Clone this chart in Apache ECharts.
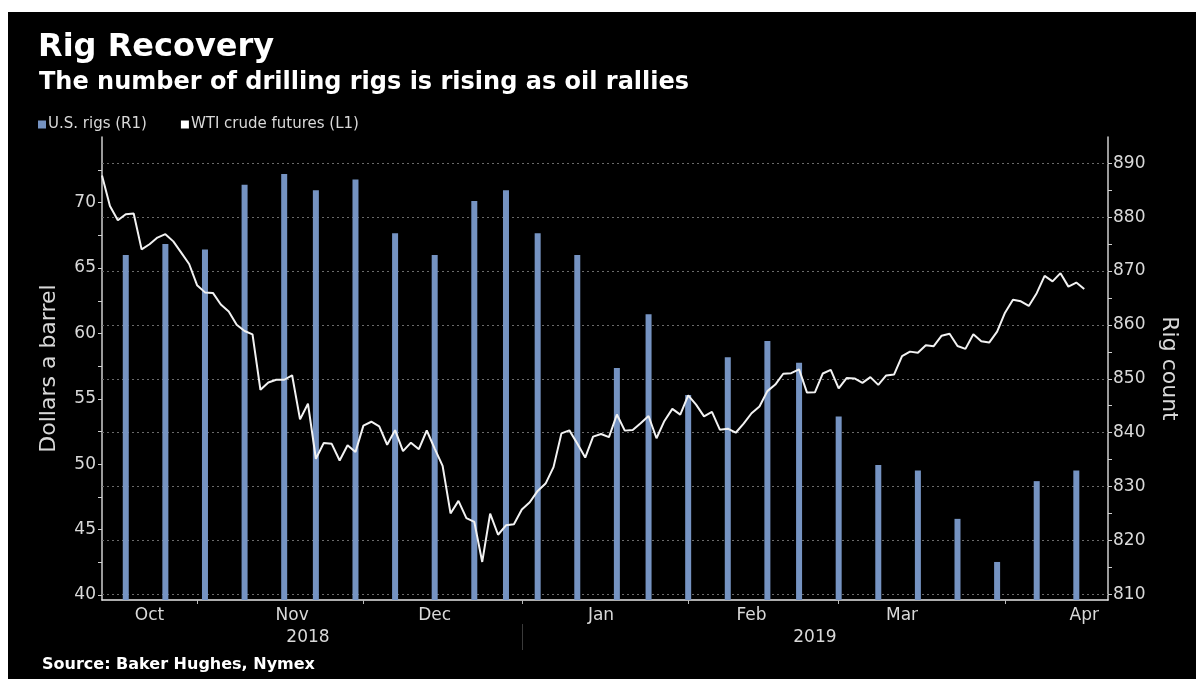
<!DOCTYPE html>
<html>
<head>
<meta charset="utf-8">
<script src="https://cdn.jsdelivr.net/npm/echarts@6/dist/echarts.min.js"></script>
<style>
  html, body { margin: 0; padding: 0; background: #ffffff; }
  #bg { position: absolute; left: 8px; top: 12px; right: 0; bottom: 0; background: #000; }
  #chart { position: absolute; left: 0; top: 0; width: 1196px; height: 679px; }
</style>
</head>
<body>
<div id="bg"></div>
<div id="chart"></div>
<script>
// ---- Data ----
const holidays = ['2018-11-22', '2018-12-25', '2019-01-01', '2019-01-21', '2019-02-18'];
const firstDay = '2018-10-16';
const lastDay = '2019-04-18';

// WTI crude futures, daily close ($/bbl), trading days from Oct 16 2018
const wti = [
  // Oct
  72.07, 69.75, 68.65, 69.12, 69.17, 66.43, 66.82, 67.33, 67.59, 67.04, 66.18, 65.31,
  // Nov
  63.69, 63.14, 63.10, 62.21, 61.67, 60.67, 60.19, 59.93, 55.69, 56.25, 56.46, 56.46, 56.80, 53.43, 54.63, 50.42, 51.63, 51.56, 50.29, 51.45, 50.93,
  // Dec
  52.95, 53.25, 52.89, 51.49, 52.61, 51.00, 51.65, 51.15, 52.58, 51.20, 49.88, 46.24, 47.20, 45.88, 45.59, 42.53, 46.22, 44.61, 45.33, 45.41,
  // Jan
  46.54, 47.09, 47.96, 48.52, 49.78, 52.36, 52.59, 51.59, 50.51, 52.11, 52.31, 52.07, 53.80, 52.57, 52.62, 53.13, 53.69, 51.99, 53.31, 54.23, 53.79,
  // Feb
  55.26, 54.56, 53.66, 54.01, 52.64, 52.72, 52.41, 53.10, 53.90, 54.41, 55.59, 56.09, 56.92, 56.96, 57.26, 55.48, 55.50, 56.94, 57.22,
  // Mar
  55.80, 56.59, 56.56, 56.22, 56.66, 56.07, 56.79, 56.87, 58.26, 58.61, 58.52, 59.09, 59.03, 59.83, 59.98, 59.04, 58.82, 59.94, 59.41, 59.30, 60.14,
  // Apr
  61.59, 62.58, 62.46, 62.10, 63.08, 64.40, 63.98, 64.61, 63.58, 63.89, 63.40
];

// U.S. oil rigs (weekly)
const rigDates = ['2018-10-19', '2018-10-26', '2018-11-02', '2018-11-09', '2018-11-16', '2018-11-23', '2018-11-30',
  '2018-12-07', '2018-12-14', '2018-12-21', '2018-12-28', '2019-01-04', '2019-01-11', '2019-01-18', '2019-01-25',
  '2019-02-01', '2019-02-08', '2019-02-15', '2019-02-22', '2019-03-01', '2019-03-08', '2019-03-15', '2019-03-22',
  '2019-03-29', '2019-04-05', '2019-04-12'];
const rigs = [873, 875, 874, 886, 888, 885, 887, 877, 873, 883, 885, 877, 873, 852, 862, 847, 854, 857, 853, 843, 834, 833, 824, 816, 831, 833];

// Axis labels / ticks
const monthLabelDates = {'2018-10-24': 'Oct', '2018-11-19': 'Nov', '2018-12-14': 'Dec', '2019-01-16': 'Jan', '2019-02-13': 'Feb', '2019-03-13': 'Mar', '2019-04-15': 'Apr'};
const monthTickDates = ['2018-11-01', '2018-12-03', '2019-01-02', '2019-02-01', '2019-03-01', '2019-04-01'];
const yearLabelDates = {'2018-11-21': '2018', '2019-02-26': '2019'};
const yearTickDates = ['2019-01-02'];
const leftLabels = [40, 45, 50, 55, 60, 65, 70];
const leftTicks = [40, 42.5, 45, 47.5, 50, 52.5, 55, 57.5, 60, 62.5, 65, 67.5, 70, 72.5];
const rightLabels = [810, 820, 830, 840, 850, 860, 870, 880, 890];
const rightTicks = [810, 815, 820, 825, 830, 835, 840, 845, 850, 855, 860, 865, 870, 875, 880, 885, 890];

// trading-day categories
const dates = [];
(function () {
  const d = new Date(firstDay + 'T00:00:00Z');
  const end = new Date(lastDay + 'T00:00:00Z');
  while (d <= end) {
    const s = d.toISOString().slice(0, 10);
    const wd = d.getUTCDay();
    if (wd !== 0 && wd !== 6 && holidays.indexOf(s) < 0) dates.push(s);
    d.setUTCDate(d.getUTCDate() + 1);
  }
})();

const FONT = "'DejaVu Sans', sans-serif";
const TXT = '#d9d9d9';

const chart = echarts.init(document.getElementById('chart'), null, {renderer: 'canvas'});
chart.setOption({
  backgroundColor: 'transparent',
  animation: false,
  textStyle: {fontFamily: FONT},
  title: [
    {text: 'Rig Recovery', left: 33, top: 27,
      textStyle: {color: '#ffffff', fontSize: 32, fontWeight: 'bold', fontFamily: FONT}},
    {text: 'The number of drilling rigs is rising as oil rallies', left: 34, top: 66,
      textStyle: {color: '#ffffff', fontSize: 24, fontWeight: 'bold', fontFamily: FONT}},
    {text: 'Source: Baker Hughes, Nymex', left: 37, top: 652,
      textStyle: {color: '#ffffff', fontSize: 16, fontWeight: 'bold', fontFamily: FONT}}
  ],
  legend: {
    left: 33, top: 112, icon: 'rect', itemWidth: 8, itemHeight: 8, itemGap: 34,
    textStyle: {color: TXT, fontSize: 15, fontFamily: FONT, padding: [0, 0, 0, -3]},
    data: [{name: 'U.S. rigs (R1)', itemStyle: {color: '#7593c2'}}, {name: 'WTI crude futures (L1)', itemStyle: {color: '#ffffff'}}]
  },
  grid: {left: 102, right: 88, top: 137, bottom: 79, containLabel: false},
  xAxis: [
    {
      type: 'category', data: dates, boundaryGap: false,
      axisLine: {lineStyle: {color: '#e6e6e6', width: 1.5}},
      axisTick: {interval: (i, v) => monthTickDates.indexOf(v) >= 0, length: 4, lineStyle: {color: '#bbbbbb'}},
      axisLabel: {interval: (i, v) => v in monthLabelDates, formatter: v => monthLabelDates[v] || '',
        color: TXT, fontSize: 17, margin: 7, fontFamily: FONT},
      splitLine: {show: false}
    },
    {
      type: 'category', data: dates, boundaryGap: false, position: 'bottom', offset: 24,
      axisLine: {show: false},
      axisTick: {interval: (i, v) => yearTickDates.indexOf(v) >= 0, length: 26, lineStyle: {color: '#3a3a3a'}},
      axisLabel: {interval: (i, v) => v in yearLabelDates, formatter: v => yearLabelDates[v] || '',
        color: TXT, fontSize: 17, margin: 5, fontFamily: FONT},
      splitLine: {show: false}
    }
  ],
  yAxis: [
    {
      type: 'value', position: 'left', min: 39.62, max: 75.02,
      name: 'Dollars a barrel', nameLocation: 'middle', nameGap: 42,
      nameTextStyle: {color: TXT, fontSize: 22, fontFamily: FONT},
      axisLine: {show: true, lineStyle: {color: '#cfcfcf', width: 1.5}},
      axisTick: {show: true, customValues: leftTicks, length: 4, lineStyle: {color: '#cfcfcf'}},
      axisLabel: {customValues: leftLabels, color: TXT, fontSize: 17, margin: 6, fontFamily: FONT},
      splitLine: {show: false}
    },
    {
      type: 'value', position: 'right', min: 808.94, max: 894.88,
      name: 'Rig count', nameLocation: 'middle', nameGap: 50, nameRotate: -90,
      nameTextStyle: {color: TXT, fontSize: 22, fontFamily: FONT},
      axisLine: {show: true, lineStyle: {color: '#cfcfcf', width: 1.5}},
      axisTick: {show: true, customValues: rightTicks, length: 4, lineStyle: {color: '#cfcfcf'}},
      axisLabel: {customValues: rightLabels, color: TXT, fontSize: 17, margin: 5, fontFamily: FONT},
      splitLine: {show: false}
    }
  ],
  series: [
    {
      name: 'U.S. rigs (R1)', type: 'bar', xAxisIndex: 0, yAxisIndex: 1, barWidth: 6, z: 3,
      itemStyle: {color: '#7593c2'},
      data: rigDates.map((d, i) => [d, rigs[i]]),
      markLine: {
        silent: true, symbol: ['none', 'none'], z: 1, animation: false,
        label: {show: false},
        lineStyle: {color: '#6a6a6a', width: 1, type: [2, 3]},
        data: rightLabels.map(v => ({yAxis: v}))
      }
    },
    {
      name: 'WTI crude futures (L1)', type: 'line', xAxisIndex: 0, yAxisIndex: 0, z: 5,
      showSymbol: false, symbol: 'none',
      lineStyle: {color: '#f2f2f2', width: 2},
      itemStyle: {color: '#ffffff'},
      data: wti
    }
  ]
});
</script>
</body>
</html>
